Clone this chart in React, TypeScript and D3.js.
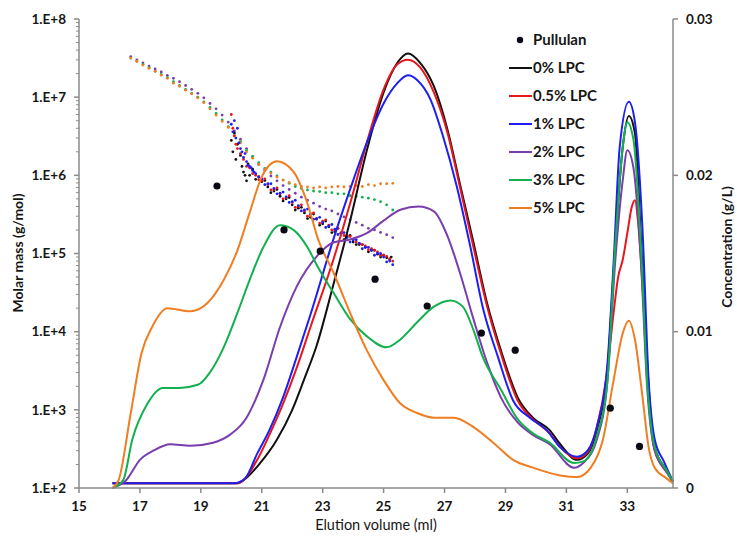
import React from "react";
import * as d3 from "d3";

// ---------- data ----------
const xTicks = [15, 17, 19, 21, 23, 25, 27, 29, 31, 33];
const yLeftTicks = [1e2, 1e3, 1e4, 1e5, 1e6, 1e7, 1e8];
const yLeftLabels = ["1.E+2", "1.E+3", "1.E+4", "1.E+5", "1.E+6", "1.E+7", "1.E+8"];
const yRightTicks = [0, 0.01, 0.02, 0.03];
const yRightLabels = ["0", "0.01", "0.02", "0.03"];

const seriesNames = ["0% LPC", "0.5% LPC", "1% LPC", "2% LPC", "3% LPC", "5% LPC"];
const seriesColors = ["#111111", "#E8161B", "#1E1EF0", "#7A3DAE", "#12B04E", "#F07D22"];

// Pullulan standards: [elution volume (ml), molar mass (g/mol)]
const pullulan: [number, number][] = [
  [19.53, 7.3e5], [21.73, 2.0e5], [22.92, 1.07e5], [24.72, 4.7e4], [26.43, 2.13e4],
  [28.21, 9.6e3], [29.32, 5.8e3], [32.44, 1.05e3], [33.4, 3.4e2],
];

// Concentration profiles: [elution volume (ml), concentration (g/L)]
const conc0: [number, number][] = [
  [16.1, 0.0003], [20.2, 0.0003], [20.4, 0.0005], [20.95, 0.0016], [21.5, 0.0031], [22.0, 0.005],
  [22.4, 0.007], [22.8, 0.0091], [23.35, 0.013], [23.9, 0.0171], [24.45, 0.0216], [25.0, 0.0253],
  [25.45, 0.0272], [25.8, 0.0278], [26.2, 0.0272], [26.65, 0.0257], [27.1, 0.0229], [27.5, 0.0195],
  [27.95, 0.0157], [28.4, 0.0118], [28.85, 0.0088], [29.4, 0.0058], [29.9, 0.0045], [30.45, 0.0037],
  [30.8, 0.0028], [31.35, 0.0018], [31.7, 0.0022], [32.0, 0.0037], [32.35, 0.0076], [32.6, 0.0154],
  [32.85, 0.0218], [33.05, 0.0238], [33.25, 0.0227], [33.45, 0.0159], [33.7, 0.0065], [33.9, 0.0026],
  [34.3, 0.0011], [34.5, 0.0004],
];
const conc05: [number, number][] = [
  [16.1, 0.0003], [20.2, 0.0003], [20.4, 0.0005], [20.85, 0.0018], [21.25, 0.0034], [21.7, 0.0054],
  [22.15, 0.0077], [22.6, 0.0103], [23.35, 0.0146], [23.9, 0.0182], [24.45, 0.0221],
  [25.0, 0.0255], [25.45, 0.0271], [25.8, 0.0274], [26.2, 0.0269], [26.65, 0.0253], [27.1, 0.0227],
  [27.5, 0.0193], [27.95, 0.0154], [28.4, 0.0116], [28.85, 0.0086], [29.4, 0.0056], [29.9, 0.0044],
  [30.45, 0.0035], [30.8, 0.0026], [31.35, 0.0019], [31.7, 0.0023], [32.0, 0.0039], [32.3, 0.0069],
  [32.55, 0.0112], [32.7, 0.0135], [32.85, 0.0146], [33.0, 0.0163], [33.15, 0.018], [33.25, 0.0184],
  [33.35, 0.0171], [33.55, 0.0112], [33.7, 0.0058], [33.9, 0.0024], [34.3, 0.001], [34.5, 0.0004],
];
const conc1: [number, number][] = [
  [16.1, 0.0003], [20.1, 0.0003], [20.45, 0.0006], [20.85, 0.0022], [21.25, 0.0037], [21.7, 0.0058],
  [22.15, 0.0084], [22.6, 0.0111], [23.35, 0.0159], [23.9, 0.0191], [24.45, 0.0221],
  [25.0, 0.0246], [25.45, 0.0259], [25.8, 0.0264], [26.1, 0.0261], [26.55, 0.0248], [26.95, 0.0225],
  [27.4, 0.0193], [27.85, 0.0154], [28.25, 0.0116], [28.75, 0.0084], [29.25, 0.0056], [29.8, 0.0045],
  [30.35, 0.0037], [30.8, 0.0026], [31.35, 0.002], [31.7, 0.0024], [32.0, 0.0039], [32.35, 0.008],
  [32.55, 0.0144], [32.75, 0.0218], [33.05, 0.0247], [33.25, 0.0234], [33.5, 0.0165], [33.7, 0.0069],
  [33.9, 0.0031], [34.2, 0.0017], [34.5, 0.0004],
];
const conc2: [number, number][] = [
  [16.1, 0.0], [16.55, 0.0005], [17.0, 0.0018], [17.45, 0.0024], [18.0, 0.0028], [18.65, 0.0027],
  [19.4, 0.0029], [19.95, 0.0034], [20.5, 0.0045], [21.05, 0.0069], [21.6, 0.0103], [22.15, 0.0129],
  [22.8, 0.0148], [23.35, 0.0157], [23.9, 0.0159], [24.45, 0.0163], [25.0, 0.0171], [25.55, 0.0178],
  [26.15, 0.018], [26.65, 0.0177], [27.1, 0.0161], [27.5, 0.0138], [27.95, 0.0108], [28.4, 0.008],
  [28.85, 0.0058], [29.4, 0.0042], [29.9, 0.0034], [30.45, 0.0028], [31.25, 0.0013], [31.55, 0.0016],
  [32.0, 0.0031], [32.35, 0.0069], [32.6, 0.0144], [32.85, 0.0197], [33.0, 0.0216], [33.2, 0.0205],
  [33.45, 0.0144], [33.65, 0.0065], [33.9, 0.0024], [34.3, 0.001], [34.5, 0.0004],
];
const conc3: [number, number][] = [
  [16.1, 0.0], [16.45, 0.0005], [16.75, 0.0031], [17.25, 0.0054], [17.75, 0.0064], [18.3, 0.0064],
  [18.9, 0.0066], [19.3, 0.0074], [19.75, 0.009], [20.2, 0.0112], [20.6, 0.0133], [21.05, 0.0154],
  [21.6, 0.0168], [22.05, 0.0165], [22.5, 0.0154], [22.85, 0.0141], [23.35, 0.0125], [23.9, 0.0108],
  [24.45, 0.0097], [25.1, 0.009], [25.55, 0.0095], [26.1, 0.0106], [26.65, 0.0116], [27.2, 0.012],
  [27.6, 0.0116], [27.95, 0.0101], [28.25, 0.0084], [28.85, 0.0063], [29.4, 0.0044], [29.9, 0.0035],
  [30.45, 0.0029], [31.25, 0.0016], [31.55, 0.0017], [32.0, 0.0033], [32.35, 0.0069], [32.6, 0.0154],
  [32.85, 0.0218], [33.0, 0.0234], [33.2, 0.0223], [33.45, 0.0154], [33.65, 0.0069], [33.9, 0.0026],
  [34.3, 0.0011], [34.5, 0.0004],
];
const conc5: [number, number][] = [
  [16.1, 0.0], [16.3, 0.0005], [16.7, 0.0048], [17.05, 0.0086], [17.4, 0.0103], [17.9, 0.0115],
  [18.65, 0.0113], [19.2, 0.0118], [19.75, 0.0133], [20.2, 0.0152], [20.6, 0.0176], [21.0, 0.0199],
  [21.5, 0.0209], [22.05, 0.0202], [22.5, 0.0182], [22.85, 0.0159], [23.35, 0.0138], [23.9, 0.0112],
  [24.45, 0.0088], [25.0, 0.0069], [25.55, 0.0054], [26.1, 0.0048], [26.65, 0.0045], [27.3, 0.0045],
  [27.95, 0.0039], [28.6, 0.0029], [29.25, 0.0018], [29.9, 0.0013], [30.8, 0.0008], [31.35, 0.0007],
  [31.8, 0.0013], [32.2, 0.0031], [32.55, 0.0069], [32.85, 0.0099], [33.05, 0.0107], [33.25, 0.0095],
  [33.5, 0.0058], [33.7, 0.0026], [33.9, 0.0013], [34.3, 0.0006], [34.5, 0.0003],
];

// Molar mass (MALS) points: [elution volume (ml), molar mass (g/mol)]
const mm0: [number, number][] = [
  [20.0, 2.8e6], [20.05, 2.0e6], [20.1, 3.5e6], [20.15, 1.6e6], [20.2, 2.5e6], [20.3, 1.8e6],
  [20.35, 1.3e6], [20.4, 1.1e6], [20.45, 1.0e6], [20.5, 8.5e5], [20.55, 1.4e6], [20.6, 1.0e6],
  [20.7, 1.2e6], [20.8, 8.9e5], [20.9, 9.6e5], [21.0, 8.3e5], [21.1, 8.6e5], [21.2, 7.1e5],
  [21.3, 6.0e5], [21.4, 6.3e5], [21.5, 6.6e5], [21.6, 5.4e5], [21.7, 4.7e5], [21.8, 5.0e5],
  [21.9, 5.2e5], [22.0, 4.2e5], [22.1, 3.6e5], [22.2, 3.8e5], [22.3, 3.9e5], [22.4, 3.3e5],
  [22.5, 2.8e5], [22.6, 2.9e5], [22.7, 3.2e5], [22.8, 2.75e5], [22.9, 2.3e5], [23.0, 2.4e5],
  [23.1, 2.6e5], [23.2, 2.2e5], [23.3, 1.85e5], [23.4, 1.9e5], [23.5, 2.1e5], [23.6, 1.8e5],
  [23.7, 1.5e5], [23.8, 1.65e5], [23.9, 1.7e5], [24.0, 1.4e5], [24.1, 1.3e5], [24.2, 1.3e5],
  [24.3, 1.3e5], [24.4, 1.2e5], [24.5, 1.05e5], [24.6, 1.1e5], [24.7, 1.1e5], [24.8, 9.8e4],
  [24.9, 9.0e4], [25.0, 9.5e4], [25.1, 8.8e4], [25.2, 8.3e4], [25.25, 9.0e4],
];
const mm05: [number, number][] = [
  [20.0, 6.0e6], [20.05, 4.0e6], [20.1, 3.2e6], [20.15, 2.5e6], [20.2, 2.2e6], [20.3, 1.9e6],
  [20.4, 1.6e6], [20.5, 1.3e6], [20.6, 1.25e6], [20.7, 1.05e6], [20.8, 1.0e6], [20.9, 8.8e5],
  [21.0, 8.5e5], [21.1, 9.0e5], [21.2, 7.6e5], [21.3, 6.5e5], [21.4, 6.6e5], [21.5, 6.9e5],
  [21.6, 5.8e5], [21.7, 5.0e5], [21.8, 5.2e5], [21.9, 5.5e5], [22.0, 4.5e5], [22.1, 3.9e5],
  [22.2, 4.0e5], [22.3, 4.2e5], [22.4, 3.5e5], [22.5, 3.0e5], [22.6, 3.1e5], [22.7, 3.3e5],
  [22.8, 2.8e5], [22.9, 2.45e5], [23.0, 2.6e5], [23.1, 2.7e5], [23.2, 2.3e5], [23.3, 2.0e5],
  [23.4, 2.0e5], [23.5, 2.1e5], [23.6, 1.85e5], [23.7, 1.7e5], [23.8, 1.7e5], [23.9, 1.65e5],
  [24.0, 1.5e5], [24.1, 1.4e5], [24.2, 1.35e5], [24.3, 1.3e5], [24.4, 1.25e5], [24.5, 1.12e5],
  [24.6, 1.15e5], [24.7, 1.1e5], [24.8, 1.05e5], [24.9, 9.5e4], [25.0, 9.5e4], [25.1, 9.2e4],
  [25.2, 8.6e4], [25.3, 8.0e4],
];
const mm1: [number, number][] = [
  [20.0, 4.5e6], [20.05, 3.6e6], [20.1, 5.0e6], [20.15, 3.0e6], [20.2, 4.0e6], [20.25, 2.6e6],
  [20.3, 2.2e6], [20.35, 2.0e6], [20.4, 1.7e6], [20.45, 1.9e6], [20.5, 1.5e6], [20.55, 1.35e6],
  [20.6, 1.3e6], [20.65, 1.25e6], [20.7, 1.15e6], [20.75, 1.1e6], [20.8, 1.05e6], [20.9, 9.5e5],
  [21.0, 9.0e5], [21.1, 7.6e5], [21.2, 7.8e5], [21.3, 7.8e5], [21.4, 6.8e5], [21.5, 5.8e5],
  [21.6, 5.9e5], [21.7, 6.1e5], [21.8, 5.3e5], [21.9, 4.5e5], [22.0, 4.6e5], [22.1, 4.8e5],
  [22.2, 4.1e5], [22.3, 3.5e5], [22.4, 3.6e5], [22.5, 3.7e5], [22.6, 3.2e5], [22.7, 2.75e5],
  [22.8, 2.8e5], [22.9, 2.9e5], [23.0, 2.5e5], [23.1, 2.15e5], [23.2, 2.25e5], [23.3, 2.35e5],
  [23.4, 2.05e5], [23.5, 1.75e5], [23.6, 1.8e5], [23.7, 1.85e5], [23.8, 1.6e5], [23.9, 1.4e5],
  [24.0, 1.5e5], [24.1, 1.5e5], [24.2, 1.35e5], [24.3, 1.15e5], [24.4, 1.2e5], [24.5, 1.2e5],
  [24.6, 1.1e5], [24.7, 9.5e4], [24.8, 1.0e5], [24.9, 1.0e5], [25.0, 9.0e4], [25.1, 7.8e4],
  [25.2, 8.0e4], [25.3, 7.2e4],
];
const mm2: [number, number][] = [
  [16.7, 3.3e7], [16.9, 3.0e7], [17.1, 2.75e7], [17.3, 2.5e7], [17.5, 2.3e7], [17.7, 2.1e7],
  [17.9, 1.9e7], [18.1, 1.74e7], [18.3, 1.58e7], [18.5, 1.41e7], [18.7, 1.26e7], [18.9, 1.12e7],
  [19.1, 9.8e6], [19.3, 8.3e6], [19.5, 7.1e6], [19.7, 5.9e6], [19.9, 4.8e6], [20.1, 3.7e6],
  [20.3, 2.9e6], [20.5, 2.2e6], [20.7, 1.74e6], [20.9, 1.38e6], [21.1, 1.15e6], [21.3, 9.8e5],
  [21.5, 8.5e5], [21.7, 7.4e5], [21.9, 6.6e5], [22.1, 5.9e5], [22.3, 5.25e5], [22.5, 4.8e5],
  [22.7, 4.4e5], [22.9, 4.0e5], [23.1, 3.7e5], [23.3, 3.5e5], [23.5, 3.2e5], [23.7, 2.95e5],
  [23.9, 2.7e5], [24.1, 2.5e5], [24.3, 2.3e5], [24.5, 2.1e5], [24.7, 2.0e5], [24.9, 1.86e5],
  [25.1, 1.74e5], [25.3, 1.6e5],
];
const mm3: [number, number][] = [
  [16.7, 3.16e7], [16.9, 2.88e7], [17.1, 2.63e7], [17.3, 2.4e7], [17.5, 2.14e7], [17.7, 1.95e7],
  [17.9, 1.78e7], [18.1, 1.58e7], [18.3, 1.41e7], [18.5, 1.26e7], [18.7, 1.12e7], [18.9, 1.0e7],
  [19.1, 8.7e6], [19.3, 7.4e6], [19.5, 6.2e6], [19.7, 5.1e6], [19.9, 4.2e6], [20.1, 3.4e6],
  [20.3, 2.7e6], [20.5, 2.1e6], [20.7, 1.74e6], [20.9, 1.45e6], [21.1, 1.23e6], [21.3, 1.1e6],
  [21.5, 9.8e5], [21.7, 8.7e5], [21.9, 7.9e5], [22.1, 7.2e5], [22.3, 6.8e5], [22.5, 6.5e5],
  [22.7, 6.3e5], [22.9, 6.2e5], [23.1, 6.0e5], [23.3, 6.0e5], [23.5, 5.8e5], [23.7, 5.8e5],
  [23.9, 5.5e5], [24.1, 5.4e5], [24.3, 5.25e5], [24.5, 5.1e5], [24.7, 4.9e5], [24.9, 4.6e5],
  [25.1, 4.2e5], [25.3, 3.6e5],
];
const mm5: [number, number][] = [
  [16.7, 3.16e7], [16.9, 2.88e7], [17.1, 2.57e7], [17.3, 2.34e7], [17.5, 2.14e7], [17.7, 1.91e7],
  [17.9, 1.74e7], [18.1, 1.51e7], [18.3, 1.38e7], [18.5, 1.23e7], [18.7, 1.1e7], [18.9, 9.8e6],
  [19.1, 8.5e6], [19.3, 7.1e6], [19.5, 5.9e6], [19.7, 4.9e6], [19.9, 4.1e6], [20.1, 3.2e6],
  [20.3, 2.6e6], [20.5, 2.0e6], [20.7, 1.66e6], [20.9, 1.38e6], [21.1, 1.2e6], [21.3, 1.07e6],
  [21.5, 9.5e5], [21.7, 8.7e5], [21.9, 8.1e5], [22.1, 7.6e5], [22.3, 7.2e5], [22.5, 7.1e5],
  [22.7, 6.9e5], [22.9, 7.1e5], [23.1, 6.9e5], [23.3, 7.1e5], [23.5, 7.2e5], [23.7, 7.1e5],
  [23.9, 7.2e5], [24.1, 7.4e5], [24.3, 7.2e5], [24.5, 7.6e5], [24.7, 7.4e5], [24.9, 7.8e5],
  [25.1, 7.8e5], [25.3, 7.9e5],
];

const concSeries = [conc0, conc05, conc1, conc2, conc3, conc5];
const mmSeries = [mm0, mm05, mm1, mm2, mm3, mm5];

// ---------- chart ----------
const W = 737;
const H = 541;
const FONT = "Lato, 'Open Sans', 'DejaVu Sans', sans-serif";
const AXIS = "#8a8a8a";
const TXT = "#161616";

export default function App() {
  const x = d3.scaleLinear().domain([15, 34.5]).range([79, 673]);
  const yL = d3.scaleLog().domain([1e2, 1e8]).range([488, 19]);
  const yR = d3.scaleLinear().domain([0, 0.03]).range([488, 19]);

  const line = d3
    .line<[number, number]>()
    .x((d) => x(d[0]))
    .y((d) => yR(d[1]))
    .curve(d3.curveMonotoneX);

  const minorTicks: number[] = [];
  for (let e = 2; e < 8; e++) for (let k = 2; k <= 9; k++) minorTicks.push(k * Math.pow(10, e));

  const [x0, x1] = x.range();
  const [yb, yt] = yR.range();

  const mmOrder = [3, 4, 5, 0, 1, 2];
  const legendY = [40, 68, 96, 124, 152, 180, 208];

  return (
    <svg
      width={W}
      height={H}
      style={{ position: "absolute", left: 0, top: 0, background: "#fff" }}
      fontFamily={FONT}
    >
      <rect x={0} y={0} width={W} height={H} fill="#fff" />

      {/* molar mass dots */}
      {mmOrder.map((si) => (
        <g key={"mm" + si} fill={seriesColors[si]}>
          {mmSeries[si].map((d, i) => (
            <circle key={i} cx={x(d[0])} cy={yL(d[1])} r={1.4} />
          ))}
        </g>
      ))}

      {/* concentration lines */}
      {concSeries.map((s, i) => (
        <path key={"c" + i} d={line(s) || ""} fill="none" stroke={seriesColors[i]} strokeWidth={2} />
      ))}

      {/* pullulan */}
      <g fill="#0a0a14">
        {pullulan.map((d, i) => (
          <circle key={i} cx={x(d[0])} cy={yL(d[1])} r={3.6} />
        ))}
      </g>

      {/* axes */}
      <g stroke={AXIS} strokeWidth={1.5} fill="none">
        <line x1={x0} y1={yt} x2={x0} y2={yb} />
        <line x1={x1} y1={yt} x2={x1} y2={yb} />
        <line x1={x0} y1={yb} x2={x1} y2={yb} />
        {yLeftTicks.map((t) => (
          <line key={"lt" + t} x1={x0 - 5} x2={x0} y1={yL(t)} y2={yL(t)} />
        ))}
        {minorTicks.map((t) => (
          <line key={"mt" + t} x1={x0 - 3} x2={x0} y1={yL(t)} y2={yL(t)} strokeWidth={1} />
        ))}
        {yRightTicks.map((t) => (
          <line key={"rt" + t} x1={x1} x2={x1 + 5} y1={yR(t)} y2={yR(t)} />
        ))}
        {xTicks.map((t) => (
          <line key={"xt" + t} x1={x(t)} x2={x(t)} y1={yb} y2={yb + 5} />
        ))}
      </g>

      {/* tick labels */}
      <g fontSize={13.5} fontWeight={700} fill={TXT}>
        {yLeftTicks.map((t, i) => (
          <text key={"ll" + t} x={66} y={yL(t)} dy="0.35em" textAnchor="end">
            {yLeftLabels[i]}
          </text>
        ))}
        {yRightTicks.map((t, i) => (
          <text key={"rl" + t} x={686} y={yR(t)} dy="0.35em" textAnchor="start">
            {yRightLabels[i]}
          </text>
        ))}
        {xTicks.map((t) => (
          <text key={"xl" + t} x={x(t)} y={506} dy="0.35em" textAnchor="middle">
            {t}
          </text>
        ))}
      </g>

      {/* axis titles */}
      <text
        transform="translate(18,253) rotate(-90)"
        textAnchor="middle"
        dy="0.35em"
        fontSize={14}
        fontWeight={700}
        fill={TXT}
      >
        Molar mass (g/mol)
      </text>
      <text
        transform="translate(727,247) rotate(-90)"
        textAnchor="middle"
        dy="0.35em"
        fontSize={14}
        fontWeight={700}
        fill={TXT}
      >
        Concentration (g/L)
      </text>
      <text x={376} y={525} dy="0.35em" textAnchor="middle" fontSize={14.5} fill={TXT}>
        Elution volume (ml)
      </text>

      {/* legend */}
      <g fontSize={15} fontWeight={700} fill={TXT}>
        <circle cx={520} cy={legendY[0]} r={3.2} fill="#0a0a14" />
        <text x={533} y={legendY[0]} dy="0.35em">Pullulan</text>
        {seriesNames.map((n, i) => (
          <g key={n}>
            <line
              x1={509}
              x2={532}
              y1={legendY[i + 1]}
              y2={legendY[i + 1]}
              stroke={seriesColors[i]}
              strokeWidth={2}
            />
            <text x={533} y={legendY[i + 1]} dy="0.35em">
              {n}
            </text>
          </g>
        ))}
      </g>
    </svg>
  );
}
